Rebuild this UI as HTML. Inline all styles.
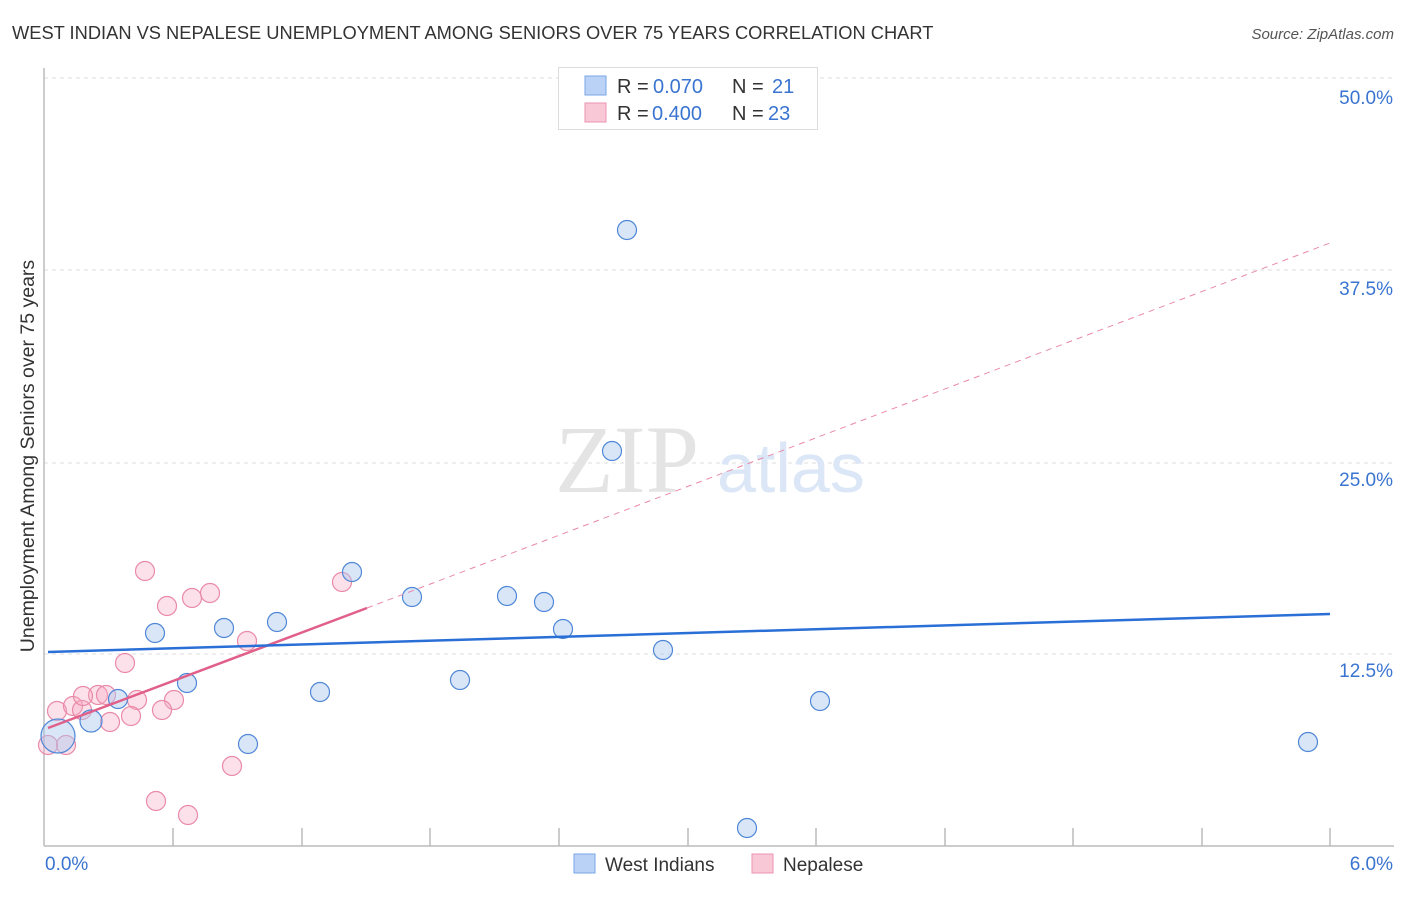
<!DOCTYPE html>
<html><head><meta charset="utf-8"><style>
body{margin:0;background:#fff;font-family:"Liberation Sans",sans-serif;}
svg text{font-family:"Liberation Sans",sans-serif;}
</style></head><body>
<svg width="1406" height="892" viewBox="0 0 1406 892" xmlns="http://www.w3.org/2000/svg">
<rect width="1406" height="892" fill="#fff"/>
<text x="12" y="39" font-size="18.3" fill="#333">WEST INDIAN VS NEPALESE UNEMPLOYMENT AMONG SENIORS OVER 75 YEARS CORRELATION CHART</text>
<text x="1394" y="39" font-size="15" fill="#555" font-style="italic" text-anchor="end">Source: ZipAtlas.com</text>
<g stroke="#ddd" stroke-dasharray="4,4" stroke-width="1">
<line x1="44" y1="78" x2="1394" y2="78"/><line x1="44" y1="270" x2="1394" y2="270"/>
<line x1="44" y1="463" x2="1394" y2="463"/><line x1="44" y1="654" x2="1394" y2="654"/>
</g>
<g stroke="#bbb" stroke-width="1.5">
<line x1="44" y1="68" x2="44" y2="846"/><line x1="44" y1="846" x2="1394" y2="846"/>
<line x1="173" y1="828" x2="173" y2="846"/><line x1="302" y1="828" x2="302" y2="846"/><line x1="430" y1="828" x2="430" y2="846"/><line x1="559" y1="828" x2="559" y2="846"/><line x1="688" y1="828" x2="688" y2="846"/><line x1="816" y1="828" x2="816" y2="846"/><line x1="945" y1="828" x2="945" y2="846"/><line x1="1073" y1="828" x2="1073" y2="846"/><line x1="1202" y1="828" x2="1202" y2="846"/><line x1="1330" y1="828" x2="1330" y2="846"/>
</g>
<g font-size="19" fill="#3a74d0" text-anchor="end">
<text x="1393" y="104">50.0%</text><text x="1393" y="295">37.5%</text><text x="1393" y="486">25.0%</text><text x="1393" y="677">12.5%</text>
</g>
<text x="45" y="870" font-size="19" fill="#3a74d0">0.0%</text>
<text x="1393" y="870" font-size="19" fill="#3a74d0" text-anchor="end">6.0%</text>
<text transform="translate(34,456) rotate(-90)" font-size="19.5" fill="#333" text-anchor="middle">Unemployment Among Seniors over 75 years</text>
<text x="555" y="492" font-size="96" fill="#e4e4e4" style="font-family:'Liberation Serif',serif">ZIP</text>
<text x="717" y="492" font-size="70" fill="#dbe6f6">atlas</text>
<g fill="rgba(247,170,195,0.35)" stroke="#e98aa8" stroke-width="1.2">
<circle cx="145" cy="571" r="9.5"/><circle cx="167" cy="606" r="9.5"/><circle cx="192" cy="598" r="9.5"/><circle cx="210" cy="593" r="9.5"/><circle cx="125" cy="663" r="9.5"/><circle cx="342" cy="582" r="9.5"/><circle cx="247" cy="641" r="9.5"/><circle cx="57" cy="711" r="9.5"/><circle cx="73" cy="706" r="9.5"/><circle cx="82" cy="710" r="9.5"/><circle cx="98" cy="695" r="9.5"/><circle cx="106" cy="695" r="9.5"/><circle cx="83" cy="696" r="9.5"/><circle cx="137" cy="700" r="9.5"/><circle cx="174" cy="700" r="9.5"/><circle cx="162" cy="710" r="9.5"/><circle cx="110" cy="722" r="9.5"/><circle cx="131" cy="716" r="9.5"/><circle cx="48" cy="745" r="9.5"/><circle cx="66" cy="745" r="9.5"/><circle cx="232" cy="766" r="9.5"/><circle cx="156" cy="801" r="9.5"/><circle cx="188" cy="815" r="9.5"/>
</g>
<g fill="rgba(170,200,240,0.45)" stroke="#4f87d6" stroke-width="1.2">
<circle cx="58" cy="736" r="17"/><circle cx="91" cy="721" r="11"/><circle cx="118" cy="699" r="9.5"/><circle cx="155" cy="633" r="9.5"/><circle cx="187" cy="683" r="9.5"/><circle cx="224" cy="628" r="9.5"/><circle cx="248" cy="744" r="9.5"/><circle cx="277" cy="622" r="9.5"/><circle cx="320" cy="692" r="9.5"/><circle cx="352" cy="572" r="9.5"/><circle cx="412" cy="597" r="9.5"/><circle cx="460" cy="680" r="9.5"/><circle cx="507" cy="596" r="9.5"/><circle cx="544" cy="602" r="9.5"/><circle cx="563" cy="629" r="9.5"/><circle cx="627" cy="230" r="9.5"/><circle cx="612" cy="451" r="9.5"/><circle cx="663" cy="650" r="9.5"/><circle cx="747" cy="828" r="9.5"/><circle cx="820" cy="701" r="9.5"/><circle cx="1308" cy="742" r="9.5"/>
</g>
<line x1="367" y1="608" x2="1330" y2="243" stroke="#e98aa8" stroke-width="1" stroke-dasharray="6,5"/>
<line x1="48" y1="728" x2="367" y2="608" stroke="#e0608a" stroke-width="2.5"/>
<line x1="48" y1="652" x2="1330" y2="614" stroke="#2a6fd6" stroke-width="2.5"/>
<rect x="558.5" y="67.5" width="259" height="62" fill="#fff" stroke="#ddd"/>
<rect x="585" y="76" width="21" height="19" fill="#b9d2f5" stroke="#7aa6e6"/>
<rect x="585" y="103" width="21" height="19" fill="#f9c8d7" stroke="#eb93b0"/>
<g font-size="20">
<text x="617" y="93" fill="#333">R = </text><text x="653" y="93" fill="#3a74d0">0.070</text><text x="732" y="93" fill="#333">N = </text><text x="772" y="93" fill="#3a74d0">21</text>
<text x="617" y="120" fill="#333">R = </text><text x="652" y="120" fill="#3a74d0">0.400</text><text x="732" y="120" fill="#333">N = </text><text x="768" y="120" fill="#3a74d0">23</text>
</g>
<rect x="574" y="854" width="21" height="19" fill="#b9d2f5" stroke="#7aa6e6"/>
<text x="605" y="871" font-size="19" fill="#333">West Indians</text>
<rect x="752" y="854" width="21" height="19" fill="#f9c8d7" stroke="#eb93b0"/>
<text x="783" y="871" font-size="19" fill="#333">Nepalese</text>
</svg>
</body></html>
